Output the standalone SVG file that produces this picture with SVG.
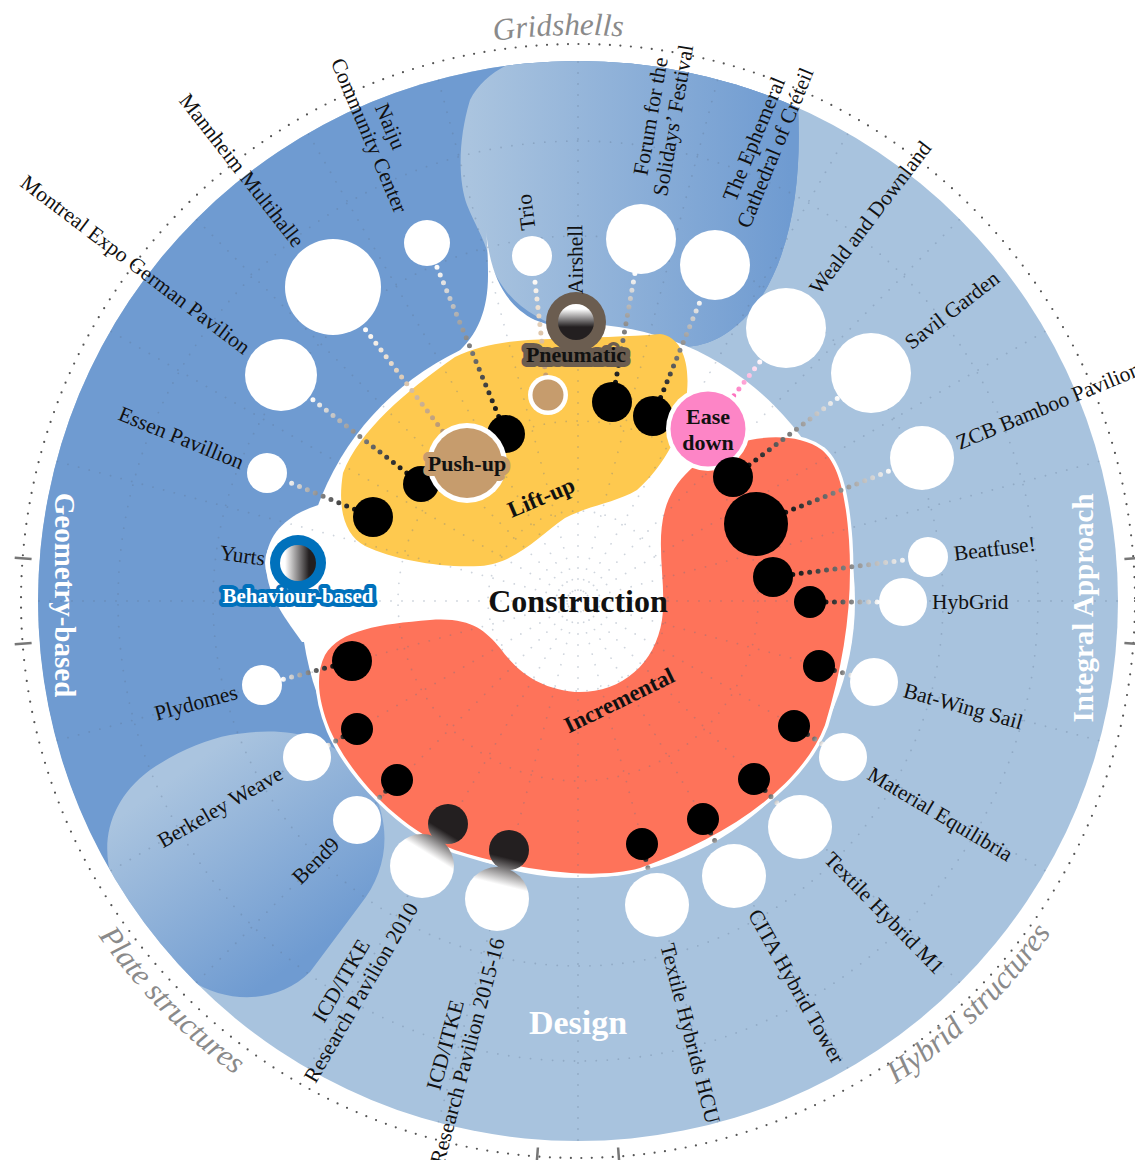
<svg xmlns="http://www.w3.org/2000/svg" width="1135" height="1160" viewBox="0 0 1135 1160">
<defs>
<style>
.lbl{font-family:"Liberation Serif","DejaVu Serif",serif;font-size:21.5px;fill:#111}
.b{font-weight:bold}
.cat{font-family:"Liberation Serif","DejaVu Serif",serif;font-style:italic;font-size:31px;fill:#8a8a8a}
.big{font-family:"Liberation Serif","DejaVu Serif",serif;font-weight:bold;fill:#fff}
.wn{fill:#fff}
.bn{fill:#000}
.dl{fill:none;stroke-width:5;stroke-linecap:round;stroke-dasharray:0 8.5}
.grid{fill:none;stroke:#5d718c;stroke-opacity:.3;stroke-width:1.8;stroke-linecap:round;stroke-dasharray:0 11}
.tick{stroke:#777;stroke-width:2.5}
</style>
<clipPath id="disc"><circle cx="578" cy="601" r="540"/></clipPath>
<linearGradient id="gGrid" gradientUnits="userSpaceOnUse" x1="470" y1="0" x2="790" y2="0"><stop offset="0" stop-color="#aac4df"/><stop offset="1" stop-color="#6f9bd1"/></linearGradient>
<linearGradient id="gPlate" gradientUnits="userSpaceOnUse" x1="170" y1="780" x2="300" y2="960"><stop offset="0" stop-color="#aac4df"/><stop offset="1" stop-color="#6f9bd1"/></linearGradient>
<linearGradient id="gYurt" gradientUnits="userSpaceOnUse" x1="285" y1="0" x2="309" y2="0"><stop offset="0" stop-color="#fff"/><stop offset="1" stop-color="#231f20"/></linearGradient>
<linearGradient id="gAir" gradientUnits="userSpaceOnUse" x1="0" y1="309" x2="0" y2="327"><stop offset="0" stop-color="#fff"/><stop offset="1" stop-color="#231f20"/></linearGradient>
<linearGradient id="gI10" gradientUnits="userSpaceOnUse" x1="443.8" y1="830.8" x2="429.1" y2="854.6"><stop offset="0" stop-color="#231f20"/><stop offset="1" stop-color="#fff"/></linearGradient>
<linearGradient id="gI15" gradientUnits="userSpaceOnUse" x1="507.1" y1="857.8" x2="500.4" y2="885"><stop offset="0" stop-color="#231f20"/><stop offset="1" stop-color="#fff"/></linearGradient>
<linearGradient id="gc1" gradientUnits="userSpaceOnUse" x1="354.5" y1="509.3" x2="285.5" y2="480.7"><stop offset="0" stop-color="#111"/><stop offset="1" stop-color="#fff"/></linearGradient>
<linearGradient id="gc2" gradientUnits="userSpaceOnUse" x1="406.8" y1="473" x2="309.4" y2="397.1"><stop offset="0" stop-color="#111"/><stop offset="1" stop-color="#fff"/></linearGradient>
<linearGradient id="gc3" gradientUnits="userSpaceOnUse" x1="442.8" y1="431.2" x2="362.1" y2="325.2"><stop offset="0" stop-color="#b8956d"/><stop offset="1" stop-color="#fff"/></linearGradient>
<linearGradient id="gc4" gradientUnits="userSpaceOnUse" x1="498.7" y1="416.4" x2="435.8" y2="264.3"><stop offset="0" stop-color="#111"/><stop offset="1" stop-color="#fff"/></linearGradient>
<linearGradient id="gc5" gradientUnits="userSpaceOnUse" x1="545.7" y1="375.1" x2="534.3" y2="275.9"><stop offset="0" stop-color="#c69c6d"/><stop offset="1" stop-color="#fff"/></linearGradient>
<linearGradient id="gc6" gradientUnits="userSpaceOnUse" x1="615.5" y1="382.3" x2="634.9" y2="273.4"><stop offset="0" stop-color="#111"/><stop offset="1" stop-color="#fff"/></linearGradient>
<linearGradient id="gc7" gradientUnits="userSpaceOnUse" x1="660.6" y1="397.5" x2="701.7" y2="297.4"><stop offset="0" stop-color="#111"/><stop offset="1" stop-color="#fff"/></linearGradient>
<linearGradient id="gc8" gradientUnits="userSpaceOnUse" x1="733.7" y1="395.7" x2="761.6" y2="359.7"><stop offset="0" stop-color="#fd6fbd"/><stop offset="1" stop-color="#fff"/></linearGradient>
<linearGradient id="gc9" gradientUnits="userSpaceOnUse" x1="749" y1="465" x2="839" y2="397.1"><stop offset="0" stop-color="#111"/><stop offset="1" stop-color="#fff"/></linearGradient>
<linearGradient id="gc10" gradientUnits="userSpaceOnUse" x1="785.7" y1="512.2" x2="892.3" y2="469.8"><stop offset="0" stop-color="#111"/><stop offset="1" stop-color="#fff"/></linearGradient>
<linearGradient id="gc11" gradientUnits="userSpaceOnUse" x1="792.8" y1="574.4" x2="908.2" y2="559.6"><stop offset="0" stop-color="#111"/><stop offset="1" stop-color="#fff"/></linearGradient>
<linearGradient id="gc12" gradientUnits="userSpaceOnUse" x1="826" y1="602" x2="879" y2="602"><stop offset="0" stop-color="#111"/><stop offset="1" stop-color="#fff"/></linearGradient>
<linearGradient id="gc13" gradientUnits="userSpaceOnUse" x1="834.4" y1="670.5" x2="851" y2="675.3"><stop offset="0" stop-color="#222"/><stop offset="1" stop-color="#eee"/></linearGradient>
<linearGradient id="gc14" gradientUnits="userSpaceOnUse" x1="807.5" y1="734.5" x2="822.7" y2="744.2"><stop offset="0" stop-color="#222"/><stop offset="1" stop-color="#eee"/></linearGradient>
<linearGradient id="gc15" gradientUnits="userSpaceOnUse" x1="765.1" y1="790.6" x2="777.9" y2="803.9"><stop offset="0" stop-color="#222"/><stop offset="1" stop-color="#eee"/></linearGradient>
<linearGradient id="gc16" gradientUnits="userSpaceOnUse" x1="710.6" y1="833" x2="718.7" y2="847.9"><stop offset="0" stop-color="#222"/><stop offset="1" stop-color="#eee"/></linearGradient>
<linearGradient id="gc17" gradientUnits="userSpaceOnUse" x1="645.8" y1="859.5" x2="649.4" y2="873.9"><stop offset="0" stop-color="#222"/><stop offset="1" stop-color="#eee"/></linearGradient>
<linearGradient id="gc20" gradientUnits="userSpaceOnUse" x1="385.7" y1="791.3" x2="374" y2="803"><stop offset="0" stop-color="#222"/><stop offset="1" stop-color="#eee"/></linearGradient>
<linearGradient id="gc21" gradientUnits="userSpaceOnUse" x1="343" y1="736.8" x2="328" y2="745.3"><stop offset="0" stop-color="#222"/><stop offset="1" stop-color="#eee"/></linearGradient>
<linearGradient id="gc22" gradientUnits="userSpaceOnUse" x1="332.7" y1="666.2" x2="281.3" y2="679.8"><stop offset="0" stop-color="#111"/><stop offset="1" stop-color="#fff"/></linearGradient>
<path id="arcTop" d="M 46.1 407.4 A 566 566 0 0 1 1109.9 407.4"/>
<path id="arcPlate" d="M 1.9 702.6 A 585 585 0 0 0 1154.1 702.6"/>
<path id="arcHybrid" d="M 8.8 701.4 A 578 578 0 0 0 1147.2 701.4"/>
</defs>

<rect width="1135" height="1160" fill="#fff"/>

<g id="regions">
<circle cx="578" cy="601" r="540" fill="#a8c3de"/>
<g clip-path="url(#disc)">
<path id="geometry-based-region" fill="#6f9bd1" d="M 110 870 A 540 540 0 0 1 798 107 C 802 180, 792 260, 752 310 C 728 338, 705 347, 680 347 L 578 345 L 420 420 L 320 560 L 315 680 L 340 748 L 200 860 Z"/>
<path id="gridshell-region" fill="url(#gGrid)" d="M 470 100 C 485 70, 520 55, 570 45 L 830 45 L 798 107 C 802 180, 792 260, 752 310 C 728 338, 705 347, 680 347 L 575 332 C 530 320, 500 295, 490 260 C 485 240, 475 225, 467 205 C 458 180, 458 140, 470 100 Z"/>
<path id="plate-region" fill="url(#gPlate)" d="M 230 735 C 290 725, 340 735, 372 788 C 392 828, 388 870, 360 905 L 310 972 C 280 1002, 230 1006, 190 980 C 150 955, 125 925, 112 880 C 100 840, 110 800, 150 770 C 180 750, 205 740, 230 735 Z"/>
</g>
<g id="construction-region" fill="#fff">
<circle cx="578" cy="601" r="277"/>
<path d="M 486 230 C 490 275, 505 305, 535 320 C 550 326, 565 329, 585 332 L 455 355 C 478 335, 488 310, 488 275 C 488 255, 487 240, 486 230 Z"/>
<path d="M 325 503 C 292 512, 268 530, 266 560 C 265 590, 280 612, 302 642 L 340 642 L 340 503 Z"/>
<circle cx="298" cy="563" r="33"/>
</g>
<path id="lift-up-region" fill="#fec94f" d="M 343 473 C 360 430, 405 392, 455 357 C 480 345, 510 340, 550 339 C 590 337, 630 337, 660 334 C 680 336, 690 360, 687 392 C 684 430, 665 465, 637 490 C 615 503, 590 505, 565 518 C 540 535, 515 564, 480 566 C 440 568, 395 560, 365 546 C 345 535, 337 510, 343 473 Z"/>
<path id="incremental-region" fill="#fe735a" stroke="#fff" stroke-width="7" paint-order="stroke" stroke-linejoin="round" d="M 737 443 C 765 435, 800 434, 822 450 C 840 465, 846 500, 849 540 C 853 600, 845 660, 825 725 C 800 790, 720 840, 640 868 C 590 882, 510 868, 455 850 C 400 830, 350 775, 330 730 C 318 700, 315 675, 325 655 C 340 630, 380 624, 430 620 C 470 617, 485 630, 500 648 C 515 668, 535 688, 575 692 C 620 694, 655 665, 662 620 C 667 585, 655 545, 665 510 C 673 480, 700 455, 737 443 Z"/>
</g>

<g id="polar-grid" class="grid">
<circle cx="578" cy="601" r="90"/>
<circle cx="578" cy="601" r="180"/>
<circle cx="578" cy="601" r="365"/>
<circle cx="578" cy="601" r="460"/>
<line x1="578" y1="601" x2="1118" y2="601"/>
<line x1="578" y1="601" x2="1118" y2="601" transform="rotate(15 578 601)"/>
<line x1="578" y1="601" x2="1118" y2="601" transform="rotate(30 578 601)"/>
<line x1="578" y1="601" x2="1118" y2="601" transform="rotate(45 578 601)"/>
<line x1="578" y1="601" x2="1118" y2="601" transform="rotate(60 578 601)"/>
<line x1="578" y1="601" x2="1118" y2="601" transform="rotate(75 578 601)"/>
<line x1="578" y1="601" x2="1118" y2="601" transform="rotate(90 578 601)"/>
<line x1="578" y1="601" x2="1118" y2="601" transform="rotate(105 578 601)"/>
<line x1="578" y1="601" x2="1118" y2="601" transform="rotate(120 578 601)"/>
<line x1="578" y1="601" x2="1118" y2="601" transform="rotate(135 578 601)"/>
<line x1="578" y1="601" x2="1118" y2="601" transform="rotate(150 578 601)"/>
<line x1="578" y1="601" x2="1118" y2="601" transform="rotate(165 578 601)"/>
<line x1="578" y1="601" x2="1118" y2="601" transform="rotate(180 578 601)"/>
<line x1="578" y1="601" x2="1118" y2="601" transform="rotate(195 578 601)"/>
<line x1="578" y1="601" x2="1118" y2="601" transform="rotate(210 578 601)"/>
<line x1="578" y1="601" x2="1118" y2="601" transform="rotate(225 578 601)"/>
<line x1="578" y1="601" x2="1118" y2="601" transform="rotate(240 578 601)"/>
<line x1="578" y1="601" x2="1118" y2="601" transform="rotate(255 578 601)"/>
<line x1="578" y1="601" x2="1118" y2="601" transform="rotate(270 578 601)"/>
<line x1="578" y1="601" x2="1118" y2="601" transform="rotate(285 578 601)"/>
<line x1="578" y1="601" x2="1118" y2="601" transform="rotate(300 578 601)"/>
<line x1="578" y1="601" x2="1118" y2="601" transform="rotate(315 578 601)"/>
<line x1="578" y1="601" x2="1118" y2="601" transform="rotate(330 578 601)"/>
<line x1="578" y1="601" x2="1118" y2="601" transform="rotate(345 578 601)"/>
</g>

<g id="outer-ring">
<circle cx="578" cy="601" r="557" fill="none" stroke="#555" stroke-width="2.2" stroke-linecap="round" stroke-dasharray="0 10.5"/>
<line class="tick" x1="31.6" y1="643" x2="14.7" y2="644.3"/>
<line class="tick" x1="31.6" y1="559" x2="14.7" y2="557.7"/>
<line class="tick" x1="1124.4" y1="559" x2="1141.3" y2="557.7"/>
<line class="tick" x1="1124.4" y1="643" x2="1141.3" y2="644.3"/>
<line class="tick" x1="537.9" y1="1147.5" x2="536.6" y2="1164.5"/>
<line class="tick" x1="618.1" y1="1147.5" x2="619.4" y2="1164.5"/>
</g>

<g id="category-labels">
<text class="cat" text-anchor="middle"><textPath href="#arcTop" startOffset="671.8">Gridshells</textPath></text>
<text class="cat" text-anchor="middle"><textPath href="#arcPlate" startOffset="352.3">Plate structures</textPath></text>
<text class="cat" text-anchor="middle"><textPath href="#arcHybrid" startOffset="1252">Hybrid structures</textPath></text>
<text class="big" style="font-size:29px" text-anchor="middle" transform="translate(65 595) rotate(90)" y="10">Geometry-based</text>
<text class="big" style="font-size:29px" text-anchor="middle" transform="translate(1083 608) rotate(-90)" y="10">Integral Approach</text>
<text class="big" style="font-size:34px" text-anchor="middle" x="578" y="1034">Design</text>
<text class="lbl b" style="font-size:32px" text-anchor="middle" x="578" y="612">Construction</text>
<text class="lbl b" style="font-size:23px" text-anchor="middle" transform="translate(541 497) rotate(-23)" y="8">Lift-up</text>
<text class="lbl b" style="font-size:23px" text-anchor="middle" transform="translate(619 700) rotate(-26)" y="8">Incremental</text>
</g>

<g id="connectors">
<line class="dl" stroke="url(#gc1)" x1="354.5" y1="509.3" x2="285.5" y2="480.7"/>
<line class="dl" stroke="url(#gc2)" x1="406.8" y1="473" x2="309.4" y2="397.1"/>
<line class="dl" stroke="url(#gc3)" x1="442.8" y1="431.2" x2="362.1" y2="325.2"/>
<line class="dl" stroke="url(#gc4)" x1="498.7" y1="416.4" x2="435.8" y2="264.3"/>
<line class="dl" stroke="url(#gc5)" x1="545.7" y1="375.1" x2="534.3" y2="275.9"/>
<line class="dl" stroke="url(#gc6)" x1="615.5" y1="382.3" x2="634.9" y2="273.4"/>
<line class="dl" stroke="url(#gc7)" x1="660.6" y1="397.5" x2="701.7" y2="297.4"/>
<line class="dl" stroke="url(#gc8)" x1="733.7" y1="395.7" x2="761.6" y2="359.7"/>
<line class="dl" stroke="url(#gc9)" x1="749" y1="465" x2="839" y2="397.1"/>
<line class="dl" stroke="url(#gc10)" x1="785.7" y1="512.2" x2="892.3" y2="469.8"/>
<line class="dl" stroke="url(#gc11)" x1="792.8" y1="574.4" x2="908.2" y2="559.6"/>
<line class="dl" stroke="url(#gc12)" x1="826" y1="602" x2="879" y2="602"/>
<line class="dl" stroke="url(#gc13)" x1="834.4" y1="670.5" x2="851" y2="675.3"/>
<line class="dl" stroke="url(#gc14)" x1="807.5" y1="734.5" x2="822.7" y2="744.2"/>
<line class="dl" stroke="url(#gc15)" x1="765.1" y1="790.6" x2="777.9" y2="803.9"/>
<line class="dl" stroke="url(#gc16)" x1="710.6" y1="833" x2="718.7" y2="847.9"/>
<line class="dl" stroke="url(#gc17)" x1="645.8" y1="859.5" x2="649.4" y2="873.9"/>
<line class="dl" stroke="url(#gc20)" x1="385.7" y1="791.3" x2="374" y2="803"/>
<line class="dl" stroke="url(#gc21)" x1="343" y1="736.8" x2="328" y2="745.3"/>
<line class="dl" stroke="url(#gc22)" x1="332.7" y1="666.2" x2="281.3" y2="679.8"/>
</g>

<g id="inner-nodes">
<g id="j-essen"><circle class="bn" cx="373" cy="517" r="20"/></g>
<g id="j-montreal"><circle class="bn" cx="421" cy="484" r="18"/></g>
<g id="j-naiju"><circle class="bn" cx="506" cy="434" r="19"/></g>
<g id="push-up"><circle class="wn" cx="467" cy="463" r="40"/><circle fill="#c69c6d" cx="467" cy="463" r="35"/>
<text class="lbl b" style="font-size:22px" text-anchor="middle" x="467" y="470.5" stroke="#c69c6d" stroke-width="10" stroke-linejoin="round" paint-order="stroke">Push-up</text></g>
<g id="j-trio"><circle class="wn" cx="548" cy="395" r="20"/><circle fill="#c69c6d" cx="548" cy="395" r="15.5"/></g>
<g id="j-forum"><circle class="bn" cx="612" cy="402" r="20"/></g>
<g id="j-cathedral"><circle class="bn" cx="653" cy="416" r="20"/></g>
<g id="ease-down"><circle class="wn" cx="708" cy="429" r="42"/><circle fill="#fd85c6" cx="708" cy="429" r="37.5"/>
<text class="lbl b" style="font-size:22px" text-anchor="middle" x="708" y="424">Ease</text><text class="lbl b" style="font-size:22px" text-anchor="middle" x="708" y="450">down</text></g>
<g id="j-weald"><circle class="bn" cx="733" cy="477" r="20"/></g>
<g id="j-savil"><circle class="bn" cx="756" cy="524" r="32"/></g>
<g id="j-zcb"><circle class="bn" cx="773" cy="577" r="20"/></g>
<g id="j-hybgrid"><circle class="bn" cx="810" cy="602" r="16"/></g>
<g id="j-batwing"><circle class="bn" cx="819" cy="666" r="16"/></g>
<g id="j-material"><circle class="bn" cx="794" cy="726" r="16"/></g>
<g id="j-m1"><circle class="bn" cx="754" cy="779" r="16"/></g>
<g id="j-cita"><circle class="bn" cx="703" cy="819" r="16"/></g>
<g id="j-hcu"><circle class="bn" cx="642" cy="844" r="16"/></g>
<g id="j-icd15"><circle fill="url(#gI15)" cx="509" cy="850" r="20"/></g>
<g id="j-icd10"><circle fill="url(#gI10)" cx="448" cy="824" r="20"/></g>
<g id="j-bend9"><circle class="bn" cx="397" cy="780" r="16"/></g>
<g id="j-berkeley"><circle class="bn" cx="357" cy="729" r="16"/></g>
<g id="j-plydomes"><circle class="bn" cx="352" cy="661" r="20"/></g>
</g>

<g id="outer-nodes">
<g id="n-montreal"><circle class="wn" cx="281" cy="375" r="36"/><text class="lbl" text-anchor="end" transform="translate(247.5 349.6) rotate(37.15)" y="7">Montreal Expo German Pavilion</text></g>
<g id="n-mannheim"><circle class="wn" cx="333" cy="287" r="48"/><text class="lbl" text-anchor="end" transform="translate(299.7 244.5) rotate(51.95)" y="7">Mannheim Multihalle</text></g>
<g id="n-naiju"><circle class="wn" cx="427" cy="243" r="23"/><text class="lbl" text-anchor="middle" transform="translate(379.7 131) rotate(67.07)"><tspan x="0" y="-4.5">Naiju</tspan><tspan x="0" y="18.5">Community Center</tspan></text></g>
<g id="n-trio"><circle class="wn" cx="532" cy="256" r="20"/><text class="lbl" transform="translate(528.6 230.2) rotate(-97.6)" y="7">Trio</text></g>
<g id="n-airshell"><circle fill="#6b5d50" cx="576" cy="322" r="30"/><circle fill="url(#gAir)" cx="576" cy="322" r="18"/><text class="lbl" transform="translate(575.8 294) rotate(-90.4)" y="7">Airshell</text>
<text class="lbl b" style="font-size:22px" text-anchor="middle" x="576" y="361.5" stroke="#6b5d50" stroke-width="10" stroke-linejoin="round" paint-order="stroke">Pneumatic</text></g>
<g id="n-forum"><circle class="wn" cx="641" cy="239" r="35"/><text class="lbl" text-anchor="middle" transform="translate(662 118.3) rotate(-80.1)"><tspan x="0" y="-4.5">Forum for the</tspan><tspan x="0" y="18.5">Solidays’ Festival</tspan></text></g>
<g id="n-cathedral"><circle class="wn" cx="715" cy="265" r="35"/><text class="lbl" text-anchor="middle" transform="translate(764.7 143.4) rotate(-67.76)"><tspan x="0" y="-4.5">The Ephemeral</tspan><tspan x="0" y="18.5">Cathedral of Créteil</tspan></text></g>
<g id="n-weald"><circle class="wn" cx="786" cy="328" r="40"/><text class="lbl" transform="translate(813.9 291.5) rotate(-52.6)" y="7">Weald and Downland</text></g>
<g id="n-savil"><circle class="wn" cx="871" cy="373" r="40"/><text class="lbl" transform="translate(907.4 344.8) rotate(-37.76)" y="7">Savil Garden</text></g>
<g id="n-zcb"><circle class="wn" cx="922" cy="458" r="32"/><text class="lbl" transform="translate(957 443.5) rotate(-22.43)" y="7">ZCB Bamboo Pavilion</text></g>
<g id="n-beatfuse"><circle class="wn" cx="928" cy="557" r="20"/><text class="lbl" transform="translate(953.8 553.8) rotate(-7)" y="7">Beatfuse!</text></g>
<g id="n-hybgrid"><circle class="wn" cx="903" cy="602" r="24"/><text class="lbl" transform="translate(932 602)" y="7">HybGrid</text></g>
<g id="n-batwing"><circle class="wn" cx="874" cy="682" r="24"/><text class="lbl" transform="translate(904 690) rotate(15.5)" y="7">Bat-Wing Sail</text></g>
<g id="n-material"><circle class="wn" cx="843" cy="757" r="24"/><text class="lbl" transform="translate(869.5 772.5) rotate(30.6)" y="7">Material Equilibria</text></g>
<g id="n-m1"><circle class="wn" cx="800" cy="827" r="32"/><text class="lbl" transform="translate(828 855.5) rotate(45.6)" y="7">Textile Hybrid M1</text></g>
<g id="n-cita"><circle class="wn" cx="734" cy="876" r="32"/><text class="lbl" transform="translate(753.5 911) rotate(60.5)" y="7">CITA Hybrid Tower</text></g>
<g id="n-hcu"><circle class="wn" cx="657" cy="905" r="32"/><text class="lbl" transform="translate(667 944) rotate(75.5)" y="7">Textile Hybrids HCU</text></g>
<g id="n-icd15"><circle fill="url(#gI15)" cx="497" cy="899" r="32"/><text class="lbl" text-anchor="middle" transform="translate(456.5 1048) rotate(-74.8)"><tspan x="0" y="-4.5">ICD/ITKE</tspan><tspan x="0" y="18.5">Research Pavilion 2015-16</tspan></text></g>
<g id="n-icd10"><circle fill="url(#gI10)" cx="422" cy="866" r="32"/><text class="lbl" text-anchor="middle" transform="translate(351.2 986.7) rotate(-59.6)"><tspan x="0" y="-4.5">ICD/ITKE</tspan><tspan x="0" y="18.5">Research Pavilion 2010</tspan></text></g>
<g id="n-bend9"><circle class="wn" cx="357" cy="820" r="24"/><text class="lbl" text-anchor="end" transform="translate(335.7 841) rotate(-44.9)" y="7">Bend9</text></g>
<g id="n-berkeley"><circle class="wn" cx="307" cy="757" r="24"/><text class="lbl" text-anchor="end" transform="translate(281 772) rotate(-30.1)" y="7">Berkeley Weave</text></g>
<g id="n-plydomes"><circle class="wn" cx="262" cy="685" r="20"/><text class="lbl" text-anchor="end" transform="translate(236.9 691.8) rotate(-15.1)" y="7">Plydomes</text></g>
<g id="n-yurts"><circle fill="#0071bc" cx="298" cy="563" r="28"/><circle fill="url(#gYurt)" cx="298" cy="563" r="18"/><text class="lbl" text-anchor="end" transform="translate(265 558.6) rotate(7.5)" y="7">Yurts</text>
<text class="lbl b" style="font-size:21px;fill:#fff" text-anchor="middle" x="298" y="603" stroke="#0071bc" stroke-width="8" stroke-linejoin="round" paint-order="stroke">Behaviour-based</text></g>
<g id="n-essen"><circle class="wn" cx="267" cy="473" r="20"/><text class="lbl" text-anchor="end" transform="translate(242.9 463.2) rotate(22.2)" y="7">Essen Pavillion</text></g>
</g>
</svg>
